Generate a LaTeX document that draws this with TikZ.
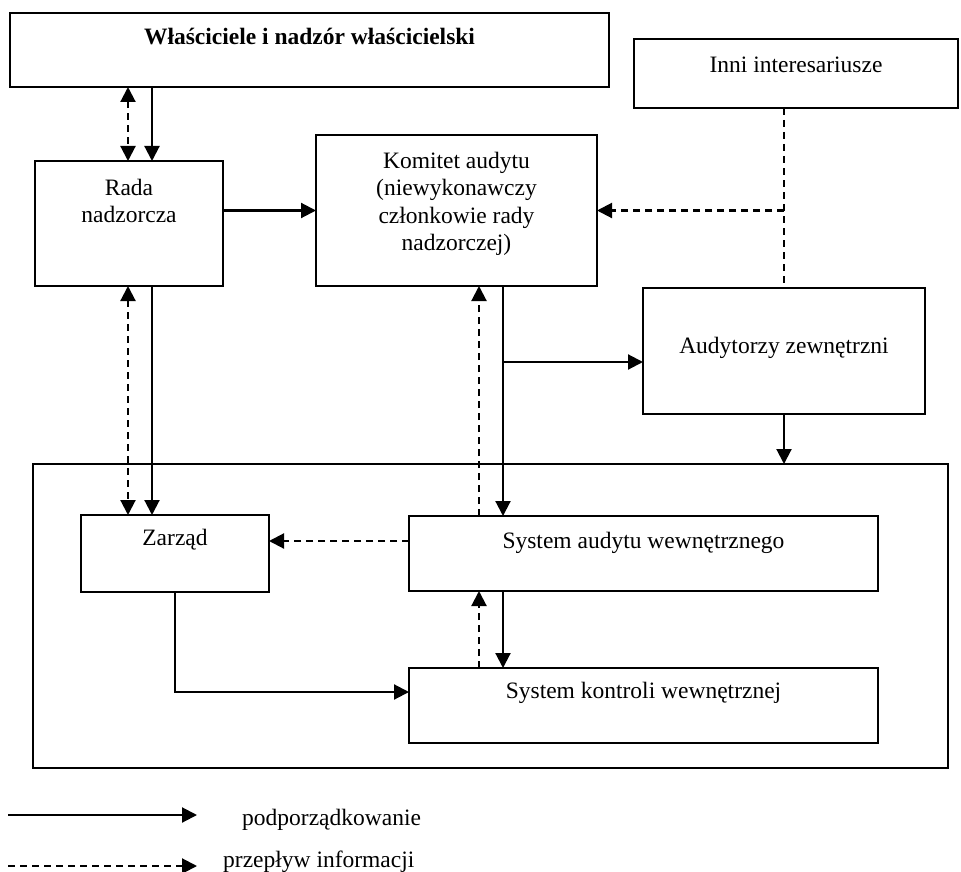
\documentclass[tikz,border=0pt]{standalone}
\usepackage{fontspec}
\setmainfont{Liberation Serif}
\usetikzlibrary{arrows.meta}
\begin{document}
\begin{tikzpicture}[x=1pt,y=-1pt,
  box/.style={draw,line width=2.3pt,rectangle,inner sep=0pt,outer sep=0pt},
  lbl/.style={font=\fontsize{23.5}{27.5}\selectfont,align=center,inner sep=0pt},
  tip/.tip={Triangle[width=15pt,length=15pt]},
  sub/.style={line width=2.1pt,-tip},
  info/.style={line width=2.1pt,dash pattern=on 7pt off 5pt,-tip},
  infobi/.style={line width=2.1pt,dash pattern=on 7pt off 5pt,tip-tip},
  infoline/.style={line width=2.1pt,dash pattern=on 7pt off 5pt}]
\useasboundingbox (0,0) rectangle (961,872);

% boxes
\node[box,minimum width=599pt,minimum height=74pt] (W) at (309.5,50) {};
\node[box,minimum width=324pt,minimum height=69pt] (Inni) at (796,73.5) {};
\node[box,minimum width=188pt,minimum height=125pt] (Rada) at (129,223.5) {};
\node[box,minimum width=281pt,minimum height=151pt] (Kom) at (456.5,210.5) {};
\node[box,minimum width=282pt,minimum height=126pt] (Aud) at (784,351) {};
\node[box,minimum width=915pt,minimum height=304pt] (Outer) at (490.5,616) {};
\node[box,minimum width=188pt,minimum height=77pt] (Zar) at (175,553.5) {};
\node[box,minimum width=469pt,minimum height=75pt] (SA) at (643.5,553.5) {};
\node[box,minimum width=469pt,minimum height=75pt] (SK) at (643.5,705.5) {};

% labels
\node[lbl,font=\bfseries\fontsize{23.5}{27.5}\selectfont] (tW) at (309.5,37) {Właściciele i nadzór właścicielski};
\node[lbl] (tInni) at (796,65) {Inni interesariusze};
\node[lbl] (tRada) at (129,201) {Rada\\nadzorcza};
\node[lbl] (tKom) at (456.5,204) {Komitet audytu\\(niewykonawczy\\członkowie rady\\nadzorczej)};
\node[lbl] (tAud) at (784,348) {Audytorzy zewnętrzni};
\node[lbl] (tZar) at (175,540) {Zarząd};
\node[lbl] (tSA) at (643.5,543) {System audytu wewnętrznego};
\node[lbl] (tSK) at (643.5,693) {System kontroli wewnętrznej};

% helper coordinates
\coordinate (xa) at (128,0);
\coordinate (xb) at (152,0);
\coordinate (xc) at (479,0);
\coordinate (xd) at (503,0);
\coordinate (yBr) at (0,362);
\coordinate (yZ) at (0,541);
\coordinate (yK) at (0,692);

% connectors
\draw[infobi] (xa |- W.south) -- (xa |- Rada.north);
\draw[sub] (xb |- W.south) -- (xb |- Rada.north);
\draw[sub] (Rada.east |- Kom.west) -- (Kom.west);
\draw[infoline] (Aud.north |- Inni.south) -- (Aud.north);
\draw[info] (Aud.north |- Kom.east) -- (Kom.east);
\draw[infobi] (xa |- Rada.south) -- (xa |- Zar.north);
\draw[sub] (xb |- Rada.south) -- (xb |- Zar.north);
\draw[info] (xc |- SA.north) -- (xc |- Kom.south);
\draw[sub] (xd |- Kom.south) -- (xd |- SA.north);
\draw[sub] (xd |- yBr) -- (Aud.west |- yBr);
\draw[sub] (Aud.south) -- (Aud.south |- Outer.north);
\draw[info] (SA.west |- yZ) -- (Zar.east |- yZ);
\draw[info] (xc |- SK.north) -- (xc |- SA.south);
\draw[sub] (xd |- SA.south) -- (xd |- SK.north);
\draw[sub] (Zar.south) |- (SK.west |- yK);

% legend
\coordinate (L1a) at (8,815);
\coordinate (L1b) at (197,815);
\coordinate (L2a) at (8,866);
\coordinate (L2b) at (197,866);
\draw[sub] (L1a) -- (L1b);
\draw[info] (L2a) -- (L2b);
\node[lbl,anchor=west] (tL1) at (242,820) {podporządkowanie};
\node[lbl,anchor=west] (tL2) at (223,862) {przepływ informacji};
\end{tikzpicture}
\end{document}
